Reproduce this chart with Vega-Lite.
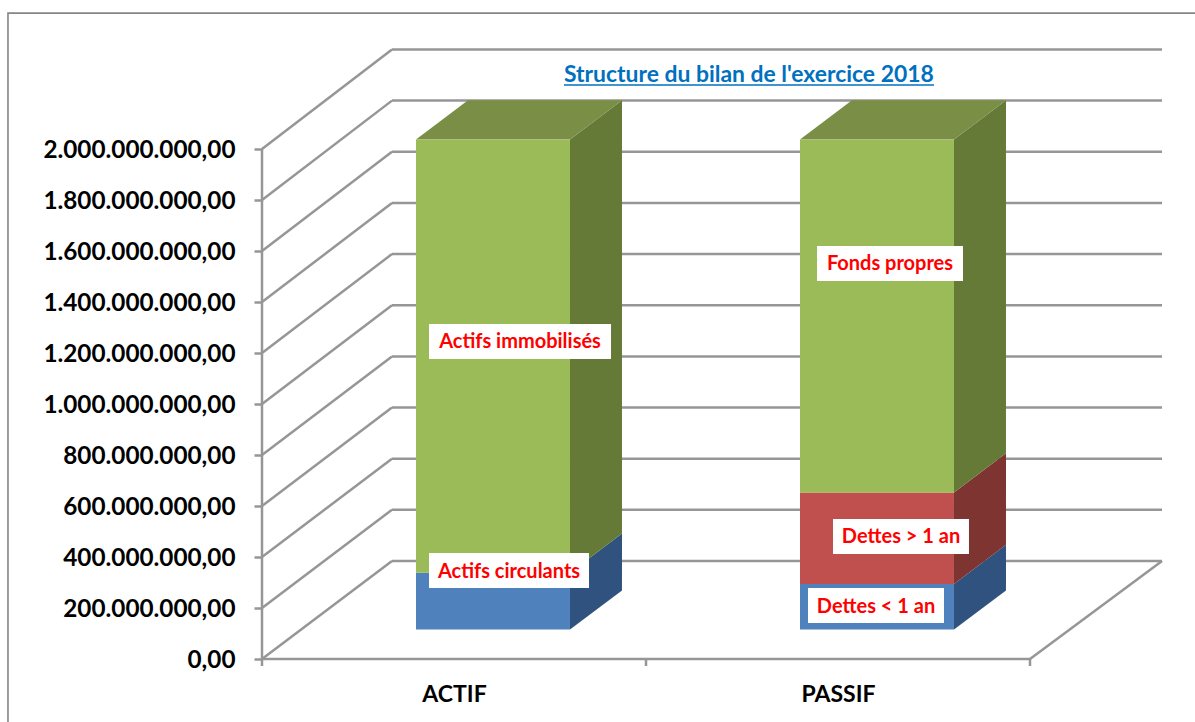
{
"$schema":"https://vega.github.io/schema/vega-lite/v6.json",
"width":1195,"height":722,"padding":0,"autosize":{"type":"none"},
"background":"white",
"view":{"stroke":null},
"title":{"text":"Structure du bilan de l'exercice 2018","anchor":"start","frame":"group","dx":564,"dy":24,"offset":-81,"baseline":"alphabetic","font":"Lato","fontSize":22.9,"fontWeight":"bold","color":"#0070C0"},
"datasets":{
"bilan":[
{"cote":"ACTIF","poste":"Actifs circulants","ordre":1,"montant":223000000},
{"cote":"ACTIF","poste":"Actifs immobilisés","ordre":2,"montant":1699000000},
{"cote":"PASSIF","poste":"Dettes < 1 an","ordre":1,"montant":179000000},
{"cote":"PASSIF","poste":"Dettes > 1 an","ordre":2,"montant":359000000},
{"cote":"PASSIF","poste":"Fonds propres","ordre":3,"montant":1384000000}
],
"graduations":[{"v":0},{"v":200000000},{"v":400000000},{"v":600000000},{"v":800000000},{"v":1000000000},{"v":1200000000},{"v":1400000000},{"v":1600000000},{"v":1800000000},{"v":2000000000}],
"cadre":[
{"x":0,"y":0,"x2":0,"y2":2000000000},
{"x":0,"y":0,"x2":2,"y2":0},
{"x":2,"y":0,"x2":2.3438,"y2":384300000},
{"x":0,"y":0,"x2":0,"y2":-27500000},
{"x":1,"y":0,"x2":1,"y2":-27500000},
{"x":2,"y":0,"x2":2,"y2":-27500000}
],
"etiquettes":[
{"texte":"Actifs immobilisés","x0":0.4349,"x1":0.9089,"y0":1176500000,"y1":1313700000},
{"texte":"Actifs circulants","x0":0.4349,"x1":0.8516,"y0":278400000,"y1":415700000},
{"texte":"Fonds propres","x0":1.4453,"x1":1.8255,"y0":1482400000,"y1":1619600000},
{"texte":"Dettes > 1 an","x0":1.487,"x1":1.8411,"y0":411800000,"y1":549000000},
{"texte":"Dettes < 1 an","x0":1.4219,"x1":1.776,"y0":141200000,"y1":278400000}
]
},
"encoding":{
"x":{"field":"x","type":"quantitative","scale":{"domain":[-0.68229,2.42969],"nice":false,"zero":false},
"axis":{"values":[0.5,1.5],"labelExpr":"datum.value<1?'ACTIF':'PASSIF'","title":null,"domain":false,"ticks":false,"grid":false,"offset":-63,"labelPadding":24,"labelFont":"Lato","labelFontSize":23,"labelFontWeight":"bold","labelColor":"#000000"}},
"y":{"field":"y","type":"quantitative","scale":{"domain":[-247060000,2584300000],"nice":false,"zero":false},
"axis":{"values":[0,200000000,400000000,600000000,800000000,1000000000,1200000000,1400000000,1600000000,1800000000,2000000000],"labelExpr":"replace(replace(replace(format(datum.value,',.2f'),regexp(',','g'),'#'),regexp('[.]','g'),','),regexp('#','g'),'.')","title":null,"domain":false,"grid":false,"offset":-262,"tickSize":8,"tickColor":"#969696","tickWidth":2.5,"labelPadding":19,"labelOffset":2,"labelLimit":300,"labelFont":"Lato","labelFontSize":24.3,"labelFontWeight":"bold","labelColor":"#000000"}}
},
"layer":[
{"data":{"values":[{"x":-0.6615,"y":2533000000,"x2":3,"y2":-500000000}]},
 "mark":{"type":"rect","fill":"transparent","stroke":"#868686","strokeWidth":1.6},
 "encoding":{"x2":{"field":"x2"},"y2":{"field":"y2"}}},
{"data":{"name":"graduations"},"transform":[{"calculate":"0","as":"x"},{"calculate":"0.3385","as":"x2"},{"calculate":"datum.v","as":"y"},{"calculate":"datum.v*1.003+384300000","as":"y2"}],
 "mark":{"type":"rule","color":"#969696","strokeWidth":2.5},
 "encoding":{"x2":{"field":"x2"},"y2":{"field":"y2"}}},
{"data":{"name":"graduations"},"transform":[{"calculate":"0.3385","as":"x"},{"calculate":"2.3438","as":"x2"},{"calculate":"datum.v*1.003+384300000","as":"y"}],
 "mark":{"type":"rule","color":"#969696","strokeWidth":2.5},
 "encoding":{"x2":{"field":"x2"},"y2":{"field":"y"}}},
{"data":{"name":"cadre"},
 "mark":{"type":"rule","color":"#969696","strokeWidth":2.5},
 "encoding":{"x2":{"field":"x2"},"y2":{"field":"y2"}}},
{"data":{"name":"bilan"},
 "transform":[
 {"stack":"montant","groupby":["cote"],"sort":[{"field":"ordre","order":"ascending"}],"as":["bas","haut"]},
 {"calculate":"indexof(['ACTIF','PASSIF'],datum.cote)+0.5","as":"c"},
 {"calculate":"[0.3,0.7]","as":"prof"},{"flatten":["prof"]},
 {"calculate":"datum.c+0.2005+datum.prof*0.3385","as":"x"},
 {"calculate":"datum.bas+datum.prof*384300000","as":"y"},
 {"calculate":"datum.haut+datum.prof*384300000","as":"y2"}],
 "mark":{"type":"area","opacity":1,"orient":"vertical"},
 "encoding":{"y2":{"field":"y2"},"color":{"field":"poste","type":"nominal","legend":null,"scale":{"domain":["Actifs circulants","Actifs immobilisés","Dettes < 1 an","Dettes > 1 an","Fonds propres"],"range":["#30527E","#667A38","#30527E","#7E3431","#667A38"]}}}},
{"data":{"name":"bilan"},
 "transform":[
 {"stack":"montant","groupby":["cote"],"sort":[{"field":"ordre","order":"ascending"}],"as":["bas","haut"]},
 {"filter":"datum.haut>1900000000"},
 {"calculate":"indexof(['ACTIF','PASSIF'],datum.cote)+0.5","as":"c"},
 {"calculate":"[0.3,0.7]","as":"prof"},{"flatten":["prof"]},
 {"calculate":"datum.c-0.2005+datum.prof*0.3385","as":"x"},
 {"calculate":"datum.c+0.2005+datum.prof*0.3385","as":"x2"},
 {"calculate":"datum.haut+datum.prof*384300000","as":"y"}],
 "mark":{"type":"area","orient":"horizontal","fill":"#7A8E46"},
 "encoding":{"x2":{"field":"x2"},"detail":{"field":"cote"}}},
{"data":{"name":"bilan"},
 "transform":[
 {"stack":"montant","groupby":["cote"],"sort":[{"field":"ordre","order":"ascending"}],"as":["bas","haut"]},
 {"calculate":"indexof(['ACTIF','PASSIF'],datum.cote)+0.5","as":"c"},
 {"calculate":"datum.c-0.2005+0.3*0.3385","as":"x"},
 {"calculate":"datum.c+0.2005+0.3*0.3385","as":"x2"},
 {"calculate":"datum.bas+0.3*384300000","as":"y"},
 {"calculate":"datum.haut+0.3*384300000","as":"y2"},
 {"calculate":"datum.poste=='Dettes > 1 an'?'#C0504D':(datum.ordre==1?'#4F81BD':'#9BBB59')","as":"teinte"}],
 "mark":{"type":"rect"},
 "encoding":{"x2":{"field":"x2"},"y2":{"field":"y2"},"fill":{"field":"teinte","type":"nominal","scale":null}}},
{"data":{"name":"etiquettes"},"transform":[{"calculate":"datum.x0","as":"x"},{"calculate":"datum.y0","as":"y"}],
 "mark":{"type":"rect","fill":"white"},
 "encoding":{"x2":{"field":"x1"},"y2":{"field":"y1"}}},
{"data":{"name":"etiquettes"},"transform":[{"calculate":"(datum.x0+datum.x1)/2","as":"x"},{"calculate":"(datum.y0+datum.y1)/2","as":"y"}],
 "mark":{"type":"text","font":"Lato","fontSize":20,"fontWeight":"bold","color":"#FF0000","align":"center","baseline":"middle","dy":1},
 "encoding":{"text":{"field":"texte"}}},
{"data":{"values":[{"x":0.7865,"x2":1.75,"y":2251000000}]},
 "mark":{"type":"rule","color":"#0070C0","strokeWidth":1.6},
 "encoding":{"x2":{"field":"x2"}}}
]
}
